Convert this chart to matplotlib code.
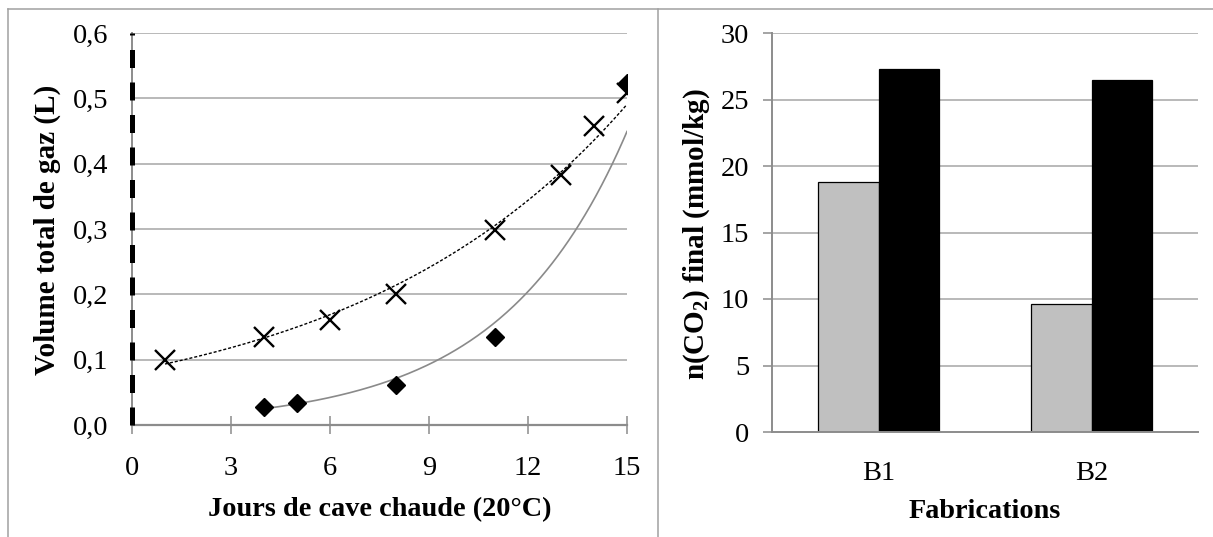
import numpy as np
import matplotlib
matplotlib.use('Agg')
import matplotlib.pyplot as plt
from matplotlib.lines import Line2D

plt.rcParams['font.family'] = ['Liberation Serif', 'DejaVu Serif']
plt.rcParams['mathtext.fontset'] = 'custom'
plt.rcParams['mathtext.rm'] = 'Liberation Serif:bold'
plt.rcParams['mathtext.bf'] = 'Liberation Serif:bold'
plt.rcParams['mathtext.it'] = 'Liberation Serif:bold:italic'

# left panel: gas volume vs days in warm cellar
jours_croix = [1, 4, 6, 8, 11, 13, 14, 15]
volume_croix = [0.100, 0.134, 0.160, 0.200, 0.298, 0.383, 0.457, 0.508]
jours_losange = [4, 5, 8, 11, 15]
volume_losange = [0.028, 0.034, 0.061, 0.134, 0.524]

x_ticks = [0, 3, 6, 9, 12, 15]
y_ticks = [0.0, 0.1, 0.2, 0.3, 0.4, 0.5, 0.6]
y_labels = ['0,0', '0,1', '0,2', '0,3', '0,4', '0,5', '0,6']

# right panel: final CO2
fabrications = ['B1', 'B2']
co2_gris = [18.8, 9.6]
co2_noir = [27.3, 26.5]
co2_ticks = [0, 5, 10, 15, 20, 25, 30]

GRID = '#a6a6a6'
AXE = '#8c8c8c'
FS = 20.5
FX = 20.3   # x titles
FY = 21     # y titles


def expfit(x, y):
    # exponential trend line (like the spreadsheet one)
    b, lna = np.polyfit(x, np.log(y), 1)
    xs = np.linspace(min(x), max(x), 200)
    return xs, np.exp(lna + b * xs)


fig = plt.figure(figsize=(12.13, 5.37), dpi=100)
W, H = 1213.0, 537.0

# ---- left chart
ax1 = fig.add_axes([132 / W, 1 - 425 / H, (627 - 132) / W, (425 - 33) / H])
for y in y_ticks[1:]:
    ax1.axhline(y, color=GRID, lw=1.1, zorder=1)

xs, ys = expfit(jours_croix, volume_croix)
ax1.plot(xs, ys, color='black', lw=1.0, linestyle=(0, (2.2, 1.4)), zorder=2)
xs, ys = expfit(jours_losange, volume_losange)
ax1.plot(xs, ys, color='#8a8a8a', lw=1.2, zorder=2)

ax1.plot(jours_croix, volume_croix, linestyle='none', marker='x', ms=14.5, mew=1.7,
         color='black', zorder=3)
ax1.plot(jours_losange, volume_losange, linestyle='none', marker='D', ms=8.8,
         color='black', zorder=3)

ax1.plot([0, 0], [0, 0.6], color='black', lw=3.6, linestyle=(0, (3.6, 2.9)),
         dash_capstyle='butt', clip_on=False, zorder=5)

ax1.set_xlim(0, 15)
ax1.set_ylim(0, 0.6)
ax1.set_xticks(x_ticks)
ax1.set_xticklabels([str(t) for t in x_ticks], fontsize=FS)
ax1.set_yticks(y_ticks)
ax1.set_yticklabels(y_labels, fontsize=FS)
ax1.tick_params(axis='x', direction='inout', length=13, width=1.1, color=AXE, pad=16)
ax1.tick_params(axis='y', length=0, pad=17)
for s in ['top', 'right']:
    ax1.spines[s].set_visible(False)
ax1.spines['left'].set_color(AXE)
ax1.spines['left'].set_linewidth(1.4)
ax1.spines['bottom'].set_color(AXE)
ax1.spines['bottom'].set_linewidth(1.6)

ax1.set_xlabel('Jours de cave chaude (20°C)', fontsize=FX, fontweight='bold')
ax1.xaxis.set_label_coords(0.5, -0.217)
ax1.xaxis.label.set_va('center')
ax1.set_ylabel('Volume total de gaz (L)', fontsize=FY, fontweight='bold')
ax1.yaxis.set_label_coords(-0.172, 0.497)
ax1.yaxis.label.set_va('center')

# ---- right chart
ax2 = fig.add_axes([772 / W, 1 - 432 / H, (1198 - 772) / W, (432 - 33) / H])
for y in co2_ticks[1:]:
    ax2.axhline(y, color=GRID, lw=1.1, zorder=1)

pos = np.arange(len(fabrications))
larg = 0.286
ax2.bar(pos - larg / 2, co2_gris, larg, color='#c0c0c0', edgecolor='black', lw=0.9, zorder=2)
ax2.bar(pos + larg / 2, co2_noir, larg, color='black', edgecolor='black', lw=0.9, zorder=2)

ax2.set_xlim(-0.5, 1.5)
ax2.set_ylim(0, 30)
ax2.set_xticks(pos)
ax2.set_xticklabels(fabrications, fontsize=FS)
ax2.set_yticks(co2_ticks)
ax2.set_yticklabels([str(t) for t in co2_ticks], fontsize=FS)
ax2.tick_params(axis='x', length=0, pad=21)
ax2.tick_params(axis='y', direction='out', length=6.5, width=1.1, color=AXE, pad=10)
for s in ['top', 'right']:
    ax2.spines[s].set_visible(False)
for s in ['left', 'bottom']:
    ax2.spines[s].set_color(AXE)
    ax2.spines[s].set_linewidth(1.4)

ax2.set_xlabel('Fabrications', fontsize=FX, fontweight='bold')
ax2.xaxis.set_label_coords(0.5, -0.2)
ax2.xaxis.label.set_va('center')
ax2.set_ylabel('n(CO$_2$) final (mmol/kg)', fontsize=FY, fontweight='bold')
ax2.yaxis.set_label_coords(-0.176, 0.496)
ax2.yaxis.label.set_va('center')

# chart frames
cadre = '#a0a0a0'
fig.add_artist(Line2D([8 / W, 1], [1 - 9 / H, 1 - 9 / H], transform=fig.transFigure, color=cadre, lw=1.1))
fig.add_artist(Line2D([8 / W, 8 / W], [0, 1 - 9 / H], transform=fig.transFigure, color=cadre, lw=1.1))
fig.add_artist(Line2D([658 / W, 658 / W], [0, 1 - 9 / H], transform=fig.transFigure, color=cadre, lw=1.1))

fig.savefig('out.png', dpi=100)
